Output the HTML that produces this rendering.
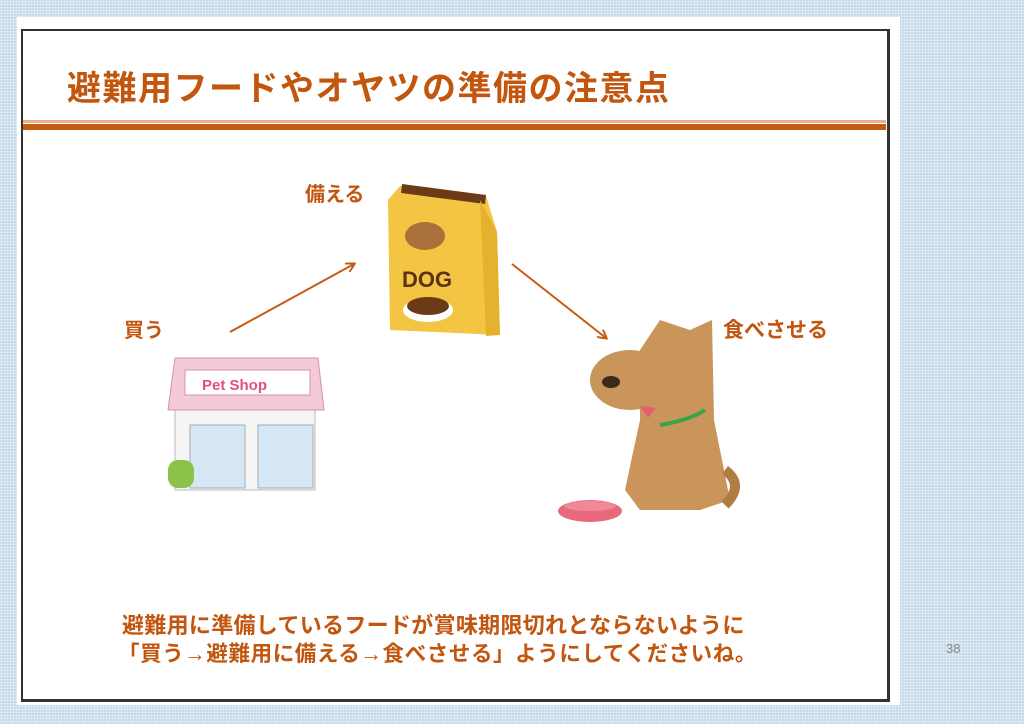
<!DOCTYPE html>
<html><head><meta charset="utf-8"><style>
body{margin:0;width:1024px;height:724px;overflow:hidden;background:#c8dbeb;
background-image:radial-gradient(#e8f0f7 0.8px,transparent 0.9px);background-size:3px 3px;position:relative;
font-family:"Liberation Sans","Noto Sans CJK JP",sans-serif}
.t{position:absolute;color:#c2560f;font-weight:bold;white-space:nowrap}
</style></head><body>
<div style="position:absolute;left:17px;top:17px;width:883px;height:688px;background:#fff"></div>
<div style="position:absolute;left:21px;top:29px;width:864px;height:668px;border:2px solid #333;border-right-width:3px;border-bottom-width:3px"></div>
<div style="position:absolute;left:23px;top:120px;width:863px;height:3px;background:#e8b08c"></div>
<div style="position:absolute;left:23px;top:124px;width:863px;height:6px;background:#c55a11"></div>
<div class="t" style="left:67px;top:61px;font-size:34px;letter-spacing:1.5px">避難用フードやオヤツの準備の注意点</div>
<div class="t" style="left:305px;top:178px;font-size:20px">備える</div>
<div class="t" style="left:124px;top:314px;font-size:20px">買う</div>
<div class="t" style="left:723px;top:314px;font-size:21px">食べさせる</div>
<div class="t" style="left:122px;top:608px;font-size:22px;letter-spacing:0.3px">避難用に準備しているフードが賞味期限切れとならないように</div>
<div class="t" style="left:118px;top:637px;font-size:21.5px;letter-spacing:0.6px">「買う→避難用に備える→食べさせる」ようにしてくださいね。</div>
<div style="position:absolute;left:946px;top:641px;font-size:13px;color:#888">38</div>
<svg width="1024" height="724" style="position:absolute;left:0;top:0">
<defs><marker id="a" markerWidth="10" markerHeight="10" refX="8" refY="5" orient="auto" markerUnits="userSpaceOnUse"><path d="M0,0 L9,5 L0,10" fill="none" stroke="#c55a11" stroke-width="2"/></marker></defs>
<line x1="230" y1="332" x2="354" y2="264" stroke="#c55a11" stroke-width="2" marker-end="url(#a)"/>
<line x1="512" y1="264" x2="606" y2="338" stroke="#c55a11" stroke-width="2" marker-end="url(#a)"/>
<path d="M400,186 L486,196 L497,232 L500,335 L390,330 L388,200 Z" fill="#f4c443"/>
<path d="M402,184 L486,195 L485,204 L401,193 Z" fill="#6b3b17"/>
<path d="M480,200 L497,232 L500,335 L486,336 Z" fill="#e5b22e"/>
<ellipse cx="425" cy="236" rx="20" ry="14" fill="#a8703a"/>
<text x="402" y="287" font-family="Liberation Sans" font-weight="bold" font-size="22" fill="#5b3212">DOG</text>
<ellipse cx="428" cy="310" rx="25" ry="12" fill="#fff"/>
<ellipse cx="428" cy="306" rx="21" ry="9" fill="#6b3b17"/>
<rect x="175" y="405" width="140" height="85" fill="#f5f5f5" stroke="#bbb"/>
<rect x="190" y="425" width="55" height="63" fill="#d6e8f6" stroke="#aaa"/>
<rect x="258" y="425" width="55" height="63" fill="#d6e8f6" stroke="#aaa"/>
<path d="M175,358 L318,358 L324,410 L168,410 Z" fill="#f6c9d8" stroke="#c99"/>
<rect x="185" y="370" width="125" height="25" fill="#fff" stroke="#c99"/>
<text x="202" y="390" font-family="Liberation Sans" font-weight="bold" font-size="15" fill="#e0507a">Pet Shop</text>
<rect x="168" y="460" width="26" height="28" rx="10" fill="#8bc34a"/>
<path d="M640,350 L660,320 L690,330 L712,320 L714,420 L730,500 L700,510 L640,510 L625,490 L640,420 Z" fill="#c9955a"/>
<ellipse cx="630" cy="380" rx="40" ry="30" fill="#c9955a"/>
<ellipse cx="611" cy="382" rx="9" ry="6" fill="#3a2a1a"/>
<path d="M640,406 L656,408 L648,418 Z" fill="#e06070"/>
<path d="M660,425 Q690,420 705,410" stroke="#3aa34a" stroke-width="4" fill="none"/>
<path d="M725,470 Q745,485 725,505" stroke="#b07c42" stroke-width="10" fill="none"/>
<ellipse cx="590" cy="511" rx="32" ry="11" fill="#e86a7a"/>
<ellipse cx="590" cy="506" rx="26" ry="5" fill="#f08898"/>
</svg>
</body></html>
